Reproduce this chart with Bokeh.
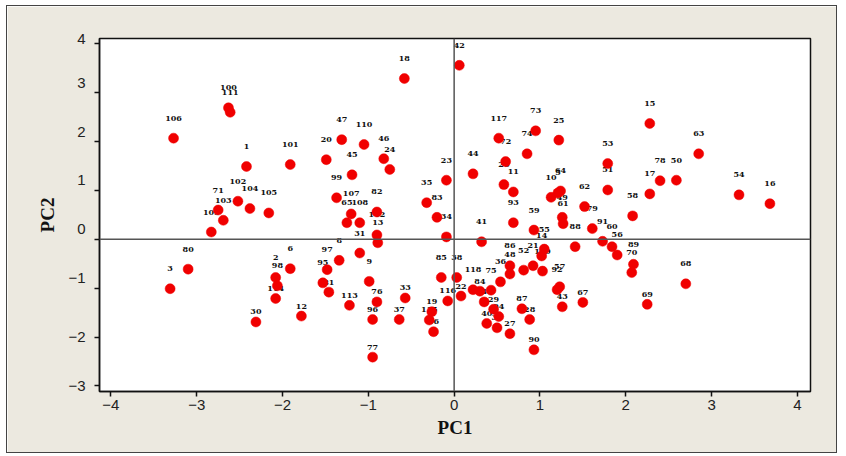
from bokeh.plotting import figure
from bokeh.models import (Range1d, Span, ColumnDataSource, FixedTicker, BasicTickFormatter)
from bokeh.core.properties import value
from bokeh.embed import file_html
from bokeh.resources import INLINE

# Sample labels and PCA scores
labels = ["106", "100", "111", "1", "101", "47", "110", "20", "46", "45", "24", "99", "18",
          "102", "104", "105", "71", "103", "109", "80", "3", "23", "35", "83", "34", "107",
          "82", "65", "108", "112", "13", "31", "8", "97", "9", "6", "85", "38", "42", "117",
          "72", "73", "74", "25", "44", "53", "15", "63", "78", "50", "17", "54", "16", "51",
          "58", "62", "79", "26", "11", "93", "10", "64", "5", "49", "61", "59", "41", "55",
          "14", "88", "91", "60", "56", "89", "70", "68", "69", "67", "43", "57", "92", "36",
          "86", "48", "52", "21", "119", "84", "4", "29", "94", "40", "39", "27", "87", "28",
          "90", "75", "118", "116", "22", "19", "115", "66", "2", "98", "114", "30", "12",
          "95", "81", "113", "76", "33", "96", "37", "77"]
pc1 = [-3.27, -2.63, -2.61, -2.42, -1.91, -1.31, -1.05, -1.49, -0.82, -1.19, -0.75, -1.37, -0.58,
       -2.52, -2.38, -2.16, -2.75, -2.69, -2.83, -3.10, -3.31, -0.09, -0.32, -0.20, -0.09, -1.20,
       -0.90, -1.25, -1.10, -0.90, -0.89, -1.10, -1.34, -1.48, -0.99, -1.91, -0.15, 0.03, 0.06, 0.52,
       0.60, 0.95, 0.85, 1.22, 0.22, 1.79, 2.28, 2.85, 2.40, 2.59, 2.28, 3.32, 3.68, 1.79,
       2.08, 1.52, 1.61, 0.58, 0.69, 0.69, 1.13, 1.24, 1.21, 1.26, 1.27, 0.93, 0.32, 1.05,
       1.02, 1.41, 1.73, 1.84, 1.90, 2.09, 2.07, 2.70, 2.25, 1.50, 1.26, 1.23, 1.20, 0.54,
       0.65, 0.65, 0.81, 0.92, 1.03, 0.30, 0.35, 0.46, 0.52, 0.38, 0.50, 0.65, 0.79, 0.88,
       0.93, 0.43, 0.22, -0.075, 0.08, -0.26, -0.29, -0.24, -2.08, -2.06, -2.08, -2.31, -1.78,
       -1.53, -1.46, -1.22, -0.90, -0.57, -0.95, -0.64, -0.95]
pc2 = [2.07, 2.69, 2.60, 1.49, 1.53, 2.04, 1.94, 1.63, 1.65, 1.32, 1.43, 0.85, 3.29,
       0.78, 0.63, 0.54, 0.60, 0.39, 0.15, -0.61, -1.01, 1.21, 0.75, 0.45, 0.05, 0.52,
       0.56, 0.34, 0.34, 0.09, -0.07, -0.28, -0.43, -0.62, -0.86, -0.60, -0.78, -0.78, 3.56, 2.07,
       1.59, 2.22, 1.75, 2.03, 1.34, 1.55, 2.37, 1.75, 1.20, 1.21, 0.93, 0.91, 0.73, 1.01,
       0.48, 0.67, 0.22, 1.12, 0.97, 0.34, 0.86, 0.99, 0.95, 0.45, 0.32, 0.19, -0.05, -0.20,
       -0.34, -0.15, -0.04, -0.15, -0.32, -0.51, -0.68, -0.91, -1.33, -1.29, -1.38, -0.97, -1.03, -0.87,
       -0.54, -0.71, -0.63, -0.54, -0.65, -1.06, -1.28, -1.43, -1.58, -1.72, -1.81, -1.93, -1.42, -1.64,
       -2.26, -1.04, -1.03, -1.26, -1.16, -1.48, -1.65, -1.89, -0.78, -0.95, -1.21, -1.69, -1.57,
       -0.89, -1.08, -1.35, -1.28, -1.20, -1.64, -1.64, -2.41]
x_ticks = [-4, -3, -2, -1, 0, 1, 2, 3, 4]
y_ticks = [-3, -2, -1, 0, 1, 2, 3, 4]

X0, X1 = -4.133, 4.153
Y0, Y1 = -3.113, 4.109
PX_PER_Y = 48.8     # screen px per PC2 unit in the frame

# in the reference, all text above about PC2 = -1.05 sits ~10px higher than its mark
def text_lift(y):
    return 10 if y > -1.05 else 0

label_dy = [-(10 + text_lift(v)) for v in pc2]
src = ColumnDataSource(dict(pc1=pc1, pc2=pc2, label=labels, dy=label_dy))

p = figure(width=831, height=448,
           x_range=Range1d(X0, X1), y_range=Range1d(Y0, Y1),
           output_backend="svg", toolbar_location=None,
           min_border_left=92, min_border_right=28, min_border_top=32, min_border_bottom=63,
           background_fill_color="white", border_fill_color="#ECE9E0",
           outline_line_color="#111111", outline_line_width=1.5)
p.styles = {"border": "1px solid #444444", "margin-left": "6px", "margin-top": "5px"}
p.xgrid.visible = False
p.ygrid.visible = False

for ax in (p.xaxis[0], p.yaxis[0]):
    ax.minor_tick_line_color = None
    ax.major_tick_in = 0
    ax.major_tick_out = 5
    ax.major_tick_line_color = "#111111"
    ax.major_tick_line_width = 1.5
    ax.axis_line_color = "#111111"
    ax.axis_line_width = 1.5
    ax.major_label_text_font = "Liberation Sans"
    ax.major_label_text_font_size = "15px"
    ax.major_label_text_color = "#222222"
    ax.axis_label_text_font = "Liberation Serif"
    ax.axis_label_text_font_style = "bold"
    ax.axis_label_text_font_size = "19px"
    ax.axis_label_text_color = "#111111"

xa = p.xaxis[0]
xa.ticker = FixedTicker(ticks=x_ticks)
xa.axis_label = "PC1"
xa.major_label_standoff = 3
xa.axis_label_standoff = 4

# y axis: tick marks at the true values (drawn as minor ticks),
# labels at the lifted text positions (major ticks without lines)
ya = p.yaxis[0]
ya.ticker = FixedTicker(ticks=[min(v + text_lift(v) / PX_PER_Y, Y1 - 1e-6) for v in y_ticks],
                        minor_ticks=y_ticks)
ya.formatter = BasicTickFormatter(precision=0, use_scientific=False)
ya.major_tick_line_color = None
ya.major_tick_out = 0
ya.major_label_standoff = 9
ya.minor_tick_line_color = "#111111"
ya.minor_tick_line_width = 1.5
ya.minor_tick_in = 0
ya.minor_tick_out = 5
ya.axis_label = "PC2"
ya.axis_label_standoff = 7

p.add_layout(Span(location=0, dimension="height", line_color="#555555", line_width=1.5))
p.add_layout(Span(location=0, dimension="width", line_color="#555555", line_width=1.5))

p.text(x="pc1", y="pc2", text="label", source=src, y_offset="dy",
       text_font=value("DejaVu Serif"), text_font_style="bold", text_font_size="8px",
       text_align="center", text_baseline="middle", text_color="#111111")
p.scatter(x="pc1", y="pc2", source=src, size=10, marker="circle",
          fill_color="#F00000", line_color="#F00000", line_width=0.5)

open("out.html", "w").write(file_html(p, INLINE))
